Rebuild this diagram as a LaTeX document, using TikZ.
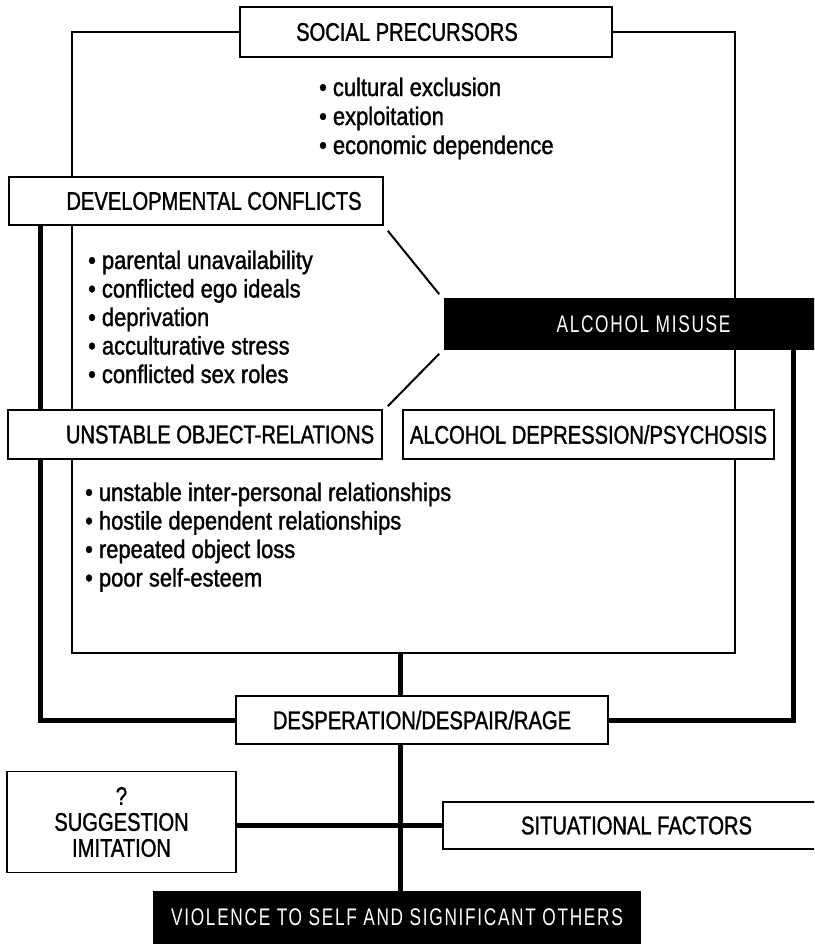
\documentclass[tikz,border=0pt]{standalone}
\usepackage{fontspec}
\newfontfamily\tfont[FakeStretch=0.79,FakeBold=1.3]{Liberation Sans}
\newfontfamily\bfont[FakeStretch=0.86,FakeBold=1.3]{Liberation Sans}
\newfontfamily\wfont[FakeStretch=0.72,LetterSpace=7]{Liberation Sans}
\tikzset{
  box/.style={draw=black, line width=1.6pt, fill=white, inner sep=0pt, align=center,
    font=\tfont\fontsize{25.5}{26}\selectfont},
  blackbox/.style={draw=black, line width=1.6pt, fill=black, text=white, inner sep=0pt,
    font=\wfont\fontsize{24}{26}\selectfont},
  bul/.style={anchor=base west, inner sep=0pt, font=\bfont\fontsize{25.5}{28}\selectfont},
  thinline/.style={draw=black, line width=2.4pt},
  thickline/.style={draw=black, line width=5pt},
}
\begin{document}
\begin{tikzpicture}[x=1pt, y=-1pt]
\useasboundingbox (0,0) rectangle (814,945);
\clip (0,0) rectangle (814,945);
\fill[white] (0,0) rectangle (814,945);

% coordinates for connector corners
\coordinate (tl) at (72,32);
\coordinate (tr) at (735,32);
\coordinate (fl) at (72,653);
\coordinate (fr) at (735,653);
\coordinate (fb) at (400,653);
\coordinate (L) at (40,720);
\coordinate (R) at (793,720);

% nodes
\node[box, minimum width=372pt, minimum height=50pt] (sp) at (426,32) {SOCIAL PRECURSORS\hspace*{38pt}};
\node[box, minimum width=374pt, minimum height=48pt] (dev) at (196,201) {\hspace*{36pt}DEVELOPMENTAL CONFLICTS};
\node[box, minimum width=374pt, minimum height=49pt] (uor) at (195,434.5) {\hspace*{50pt}UNSTABLE OBJECT-RELATIONS};
\node[box, minimum width=371pt, minimum height=49pt] (ad) at (588.5,434.5) {ALCOHOL DEPRESSION/PSYCHOSIS};
\node[box, minimum width=372pt, minimum height=48pt] (desp) at (422,720) {DESPERATION/DESPAIR/RAGE};
\node[box, minimum width=229pt, minimum height=101pt] (sugg) at (121.5,822) {?\\SUGGESTION\\IMITATION};
\node[box, minimum width=387pt, minimum height=47pt] (sit) at (636.5,825.5) {SITUATIONAL FACTORS};

% thin connectors
\draw[thinline] (sp.west) -- (tl) -- (tl |- dev.north);
\draw[thinline] (sp.east) -- (tr) -- (tr |- ad.north);
\draw[thinline] (fl |- dev.south) -- (fl |- uor.north);
\draw[thinline] (fl |- uor.south) -- (fl) -- (fr) -- (fr |- ad.south);

% alcohol misuse box drawn over the thin line
\node[blackbox, minimum width=385pt, minimum height=50pt] (am) at (637.5,324) {\hspace*{12pt}ALCOHOL MISUSE};
\node[blackbox, minimum width=487pt, minimum height=51pt] (vio) at (397,917.5) {VIOLENCE TO SELF AND SIGNIFICANT OTHERS};

% diagonals
\draw[thinline, line width=2pt] ([shift={(4,5)}]dev.south east) -- ([shift={(-5,-4)}]am.north west);
\draw[thinline, line width=2pt] ([shift={(-5,4)}]am.south west) -- ([shift={(5,-3)}]uor.north east);

% thick connectors
\draw[thickline] (L |- dev.south) -- (L |- uor.north);
\draw[thickline] (L |- uor.south) -- (L) -- (desp.west);
\draw[thickline] (R |- am.south) -- (R) -- (desp.east);
\draw[thickline] (fb) -- (fb |- desp.north);
\draw[thickline] (fb |- desp.south) -- (fb |- vio.north);
\draw[thickline] (sugg.east |- sit.west) -- (sit.west);

% bullet lists
\node[bul] (s1) at (319,96) {• cultural exclusion};
\node[bul] (s2) at (319,125) {• exploitation};
\node[bul] (s3) at (319,154) {• economic dependence};

\node[bul] (d1) at (88,269) {• parental unavailability};
\node[bul] (d2) at (88,297.5) {• conflicted ego ideals};
\node[bul] (d3) at (88,326) {• deprivation};
\node[bul] (d4) at (88,354.5) {• acculturative stress};
\node[bul] (d5) at (88,383) {• conflicted sex roles};

\node[bul] (u1) at (85,501) {• unstable inter-personal relationships};
\node[bul] (u2) at (85,529.5) {• hostile dependent relationships};
\node[bul] (u3) at (85,558) {• repeated object loss};
\node[bul] (u4) at (85,586.5) {• poor self-esteem};
\end{tikzpicture}
\end{document}
